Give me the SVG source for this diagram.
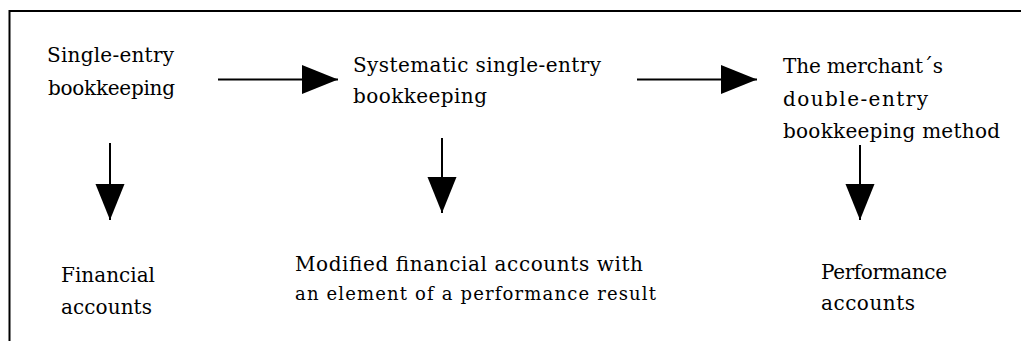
<svg xmlns="http://www.w3.org/2000/svg" width="1021" height="341" viewBox="0 0 1021 341">
<style>
  .t { font-family: "DejaVu Serif", "Liberation Serif", serif; font-size: 20px; fill: #000; }
  .s { font-size: 18px; }
  .c { stroke: #000; stroke-width: 2; fill: none; }
  .frame { stroke: #000; stroke-width: 2; fill: none; }
</style>
<defs>
  <marker id="ah" markerUnits="userSpaceOnUse" markerWidth="37" markerHeight="30" refX="36" refY="14.5" orient="auto" viewBox="0 0 37 30">
    <path d="M0,0 L36,14.5 L0,29 Z" fill="#000"/>
  </marker>
</defs>
<rect width="1021" height="341" fill="#fff"/>
<path class="frame" d="M9.5,341 L9.5,11 L1021,11"/>

<g id="n-single">
  <text class="t" x="47" y="62" textLength="127" lengthAdjust="spacing">Single-entry</text>
  <text class="t" x="48" y="95" textLength="127" lengthAdjust="spacing">bookkeeping</text>
</g>
<g id="n-systematic">
  <text class="t" x="353" y="72" textLength="248" lengthAdjust="spacing">Systematic single-entry</text>
  <text class="t" x="353" y="103" textLength="134" lengthAdjust="spacing">bookkeeping</text>
</g>
<g id="n-merchant">
  <text class="t" x="783" y="73" textLength="160" lengthAdjust="spacing">The merchant´s</text>
  <text class="t" x="783" y="106" textLength="145" lengthAdjust="spacing">double-entry</text>
  <text class="t" x="783" y="138" textLength="217" lengthAdjust="spacing">bookkeeping method</text>
</g>
<g id="n-financial">
  <text class="t" x="61" y="282" textLength="94" lengthAdjust="spacing">Financial</text>
  <text class="t" x="61" y="314" textLength="91" lengthAdjust="spacing">accounts</text>
</g>
<g id="n-modified">
  <text class="t" x="295" y="271" textLength="348" lengthAdjust="spacing">Modified financial accounts with</text>
  <text class="t s" x="295" y="300" textLength="361" lengthAdjust="spacing">an element of a performance result</text>
</g>
<g id="n-performance">
  <text class="t" x="821" y="279" textLength="126" lengthAdjust="spacing">Performance</text>
  <text class="t" x="821" y="310" textLength="94" lengthAdjust="spacing">accounts</text>
</g>

<g id="connectors">
  <line class="c" x1="218" y1="79.5" x2="338" y2="79.5" marker-end="url(#ah)"/>
  <line class="c" x1="637" y1="79.5" x2="757" y2="79.5" marker-end="url(#ah)"/>
  <line class="c" x1="110" y1="143" x2="110" y2="220" marker-end="url(#ah)"/>
  <line class="c" x1="442" y1="138" x2="442" y2="213" marker-end="url(#ah)"/>
  <line class="c" x1="860" y1="145" x2="860" y2="220" marker-end="url(#ah)"/>
</g>
</svg>
